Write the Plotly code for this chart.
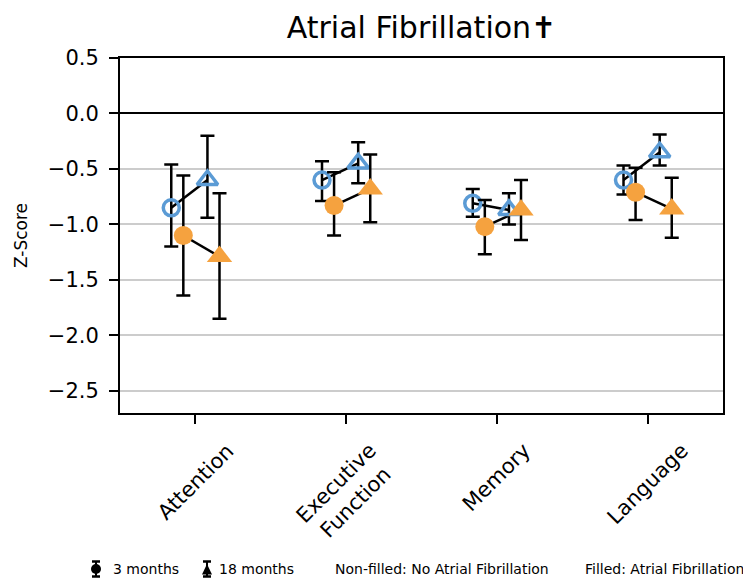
import plotly.graph_objects as go

# ---------------- data ----------------
categories = ["Attention", "Executive<br>Function", "Memory", "Language"]

# No Atrial Fibrillation, 3 months (open circles)
noaf_3m = [-0.85, -0.60, -0.81, -0.60]
noaf_3m_hi = [-0.46, -0.43, -0.68, -0.47]
noaf_3m_lo = [-1.20, -0.79, -0.93, -0.73]
# No Atrial Fibrillation, 18 months (open triangles)
noaf_18m = [-0.60, -0.45, -0.87, -0.35]
noaf_18m_hi = [-0.20, -0.26, -0.72, -0.19]
noaf_18m_lo = [-0.94, -0.63, -1.00, -0.47]
# Atrial Fibrillation, 3 months (filled circles)
af_3m = [-1.10, -0.83, -1.02, -0.71]
af_3m_hi = [-0.56, -0.53, -0.78, -0.49]
af_3m_lo = [-1.64, -1.10, -1.27, -0.96]
# Atrial Fibrillation, 18 months (filled triangles)
af_18m = [-1.29, -0.68, -0.87, -0.86]
af_18m_hi = [-0.72, -0.37, -0.60, -0.58]
af_18m_lo = [-1.85, -0.98, -1.14, -1.12]

y_ticks = [0.5, 0.0, -0.5, -1.0, -1.5, -2.0, -2.5]

# ---------------- style ----------------
BLUE = "#5B9BD5"
ORANGE = "#F5A23F"
FONT = "DejaVu Sans"
W, H = 743, 578
ML, MR, MT, MB = 120, 20, 58, 165
PW, PH = W - ML - MR, H - MT - MB

offsets = {"noaf_3m": -0.16, "af_3m": -0.08, "noaf_18m": 0.08, "af_18m": 0.16}
idx = list(range(len(categories)))


def xs(key):
    return [i + offsets[key] for i in idx]


def err(vals, hi, lo):
    return dict(type="data", symmetric=False,
                array=[h - v for v, h in zip(vals, hi)],
                arrayminus=[v - l for v, l in zip(vals, lo)],
                color="black", thickness=2.5, width=7)


def connector(k3, v3, k18, v18):
    x, y = [], []
    for i in idx:
        x += [i + offsets[k3], i + offsets[k18], None]
        y += [v3[i], v18[i], None]
    return go.Scatter(x=x, y=y, mode="lines", line=dict(color="black", width=2.5),
                      showlegend=False, hoverinfo="skip")


fig = go.Figure()
fig.add_trace(connector("noaf_3m", noaf_3m, "noaf_18m", noaf_18m))
fig.add_trace(connector("af_3m", af_3m, "af_18m", af_18m))

fig.add_trace(go.Scatter(x=xs("noaf_3m"), y=noaf_3m, mode="markers",
                         error_y=err(noaf_3m, noaf_3m_hi, noaf_3m_lo),
                         marker=dict(symbol="circle-open", size=16, color=BLUE,
                                     line=dict(width=3.5, color=BLUE)),
                         name="No AF, 3 months", showlegend=False))
fig.add_trace(go.Scatter(x=xs("noaf_18m"), y=noaf_18m, mode="markers",
                         error_y=err(noaf_18m, noaf_18m_hi, noaf_18m_lo),
                         marker=dict(symbol="triangle-up-open", size=18, color=BLUE,
                                     line=dict(width=3.5, color=BLUE)),
                         name="No AF, 18 months", showlegend=False))
fig.add_trace(go.Scatter(x=xs("af_3m"), y=af_3m, mode="markers",
                         error_y=err(af_3m, af_3m_hi, af_3m_lo),
                         marker=dict(symbol="circle", size=19, color=ORANGE,
                                     line=dict(width=0)),
                         name="AF, 3 months", showlegend=False))
fig.add_trace(go.Scatter(x=xs("af_18m"), y=af_18m, mode="markers",
                         error_y=err(af_18m, af_18m_hi, af_18m_lo),
                         marker=dict(symbol="triangle-up", size=22, color=ORANGE,
                                     line=dict(width=0)),
                         name="AF, 18 months", showlegend=False))


def pxx(px):
    return (px - ML) / PW


def pxy(py):
    return (H - MB - py) / PH


annotations = []
# rotated category labels
for i, lab in enumerate(categories):
    annotations.append(dict(x=i, xref="x", y=pxy(436), yref="paper", text=lab,
                            textangle=-45, xanchor="center", yanchor="top",
                            showarrow=False, font=dict(family=FONT, size=21, color="black")))

# bottom key texts
key_texts = [(111, "3 months"), (217, "18 months"),
             (333, "Non-filled: No Atrial Fibrillation"), (583, "Filled: Atrial Fibrillation")]
for px, t in key_texts:
    annotations.append(dict(x=pxx(px), xref="paper", y=pxy(569), yref="paper", text=t,
                            xanchor="left", yanchor="middle", showarrow=False,
                            font=dict(family=FONT, size=14, color="black")))

# key glyphs (marker with error bar)
shapes = []


def glyph(cx, cy, kind):
    base = dict(xref="paper", yref="paper", xsizemode="pixel", ysizemode="pixel",
                xanchor=pxx(cx), yanchor=pxy(cy))
    shapes.append(dict(type="line", x0=0, x1=0, y0=-7.5, y1=7.5,
                       line=dict(color="black", width=2), **base))
    shapes.append(dict(type="line", x0=-4, x1=4, y0=7.5, y1=7.5,
                       line=dict(color="black", width=2.5), **base))
    shapes.append(dict(type="line", x0=-4, x1=4, y0=-7.5, y1=-7.5,
                       line=dict(color="black", width=2.5), **base))
    if kind == "circle":
        shapes.append(dict(type="circle", x0=-5, x1=5, y0=-5, y1=5,
                           fillcolor="black", line=dict(color="black", width=0), **base))
    else:
        shapes.append(dict(type="path", path="M-5,-5.5 L5,-5.5 L0,5 Z",
                           fillcolor="black", line=dict(color="black", width=0), **base))


glyph(96, 569, "circle")
glyph(207, 569, "triangle")

fig.update_layout(
    width=W, height=H,
    margin=dict(l=ML, r=MR, t=MT, b=MB, pad=0),
    paper_bgcolor="white", plot_bgcolor="white",
    font=dict(family=FONT, color="black"),
    title=dict(text="Atrial Fibrillation\u271D", x=(ML + PW / 2) / W, xanchor="center",
               y=1 - 17 / H, yanchor="top", yref="container",
               font=dict(family=FONT, size=30, color="black")),
    xaxis=dict(range=[-0.5, 3.5], tickvals=idx, showticklabels=False,
               ticks="outside", ticklen=9, tickwidth=2, tickcolor="black",
               showgrid=False, zeroline=False,
               showline=True, mirror=True, linecolor="black", linewidth=2),
    yaxis=dict(range=[-2.7, 0.5], tickvals=y_ticks, tickformat=".1f",
               ticks="outside", ticklen=9, tickwidth=2, tickcolor="black",
               ticklabelstandoff=6,
               tickfont=dict(family=FONT, size=21, color="black"),
               showgrid=True, gridcolor="#cccccc", gridwidth=2,
               zeroline=True, zerolinecolor="black", zerolinewidth=2,
               showline=True, mirror=True, linecolor="black", linewidth=2,
               title=dict(text="Z-Score", font=dict(family=FONT, size=17, color="black"),
                          standoff=16)),
    annotations=annotations,
    shapes=shapes,
    showlegend=False,
)

fig.write_html("out.html")
